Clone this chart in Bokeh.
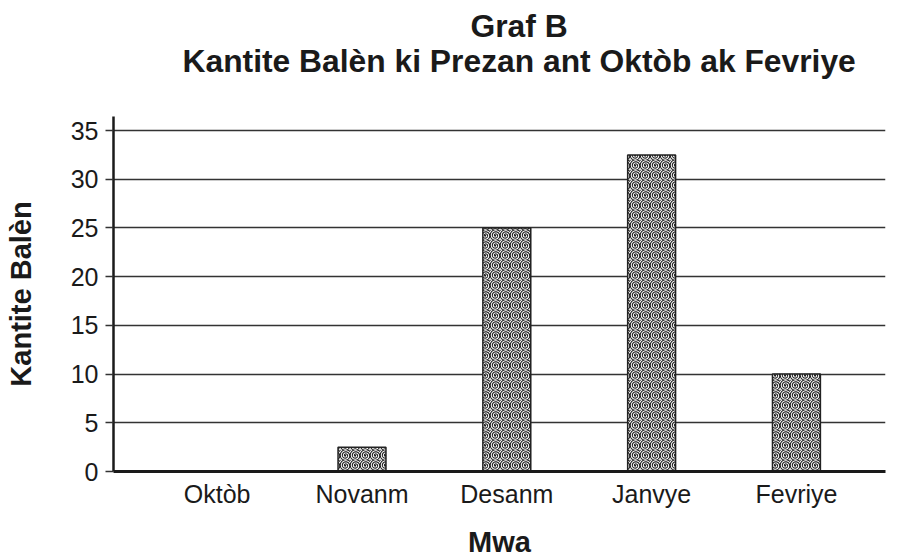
from bokeh.plotting import figure
from bokeh.models import ColumnDataSource, FixedTicker, Range1d, Title
from bokeh.embed import file_html
from bokeh.resources import INLINE

months = ["Oktòb", "Novanm", "Desanm", "Janvye", "Fevriye"]
whales = [0, 2.5, 25, 32.5, 10]
y_ticks = [0, 5, 10, 15, 20, 25, 30, 35]
title_line1 = "Graf B"
title_line2 = "Kantite Balèn ki Prezan ant Oktòb ak Fevriye"
x_label = "Mwa"
y_label = "Kantite Balèn"

pos = list(range(len(months)))
src = ColumnDataSource(dict(x=pos, top=whales))

FONT = "Liberation Sans"
INK = "#1a1a1a"

p = figure(width=897, height=560, output_backend="svg", toolbar_location=None,
           title_location=None,
           x_range=Range1d(-0.716, 4.615), y_range=Range1d(0, 36.44),
           min_border_left=113, min_border_right=12, min_border_top=116,
           min_border_bottom=89, outline_line_color=None,
           background_fill_color="white", border_fill_color="white")

p.vbar(x="x", top="top", width=0.331, source=src, fill_color="white",
       line_color="#222222", line_width=1.5, hatch_pattern="spiral",
       hatch_color="#1a1a1a", hatch_scale=10, hatch_weight=1.1)

p.xgrid.visible = False
p.ygrid.ticker = FixedTicker(ticks=y_ticks[1:])
p.ygrid.grid_line_color = "#333333"
p.ygrid.grid_line_width = 1.5
p.ygrid.level = "underlay"

p.yaxis.ticker = FixedTicker(ticks=y_ticks)
p.xaxis.ticker = FixedTicker(ticks=pos)
p.xaxis.major_label_overrides = {i: m for i, m in enumerate(months)}

for ax in (p.xaxis[0], p.yaxis[0]):
    ax.axis_line_color = INK
    ax.axis_line_width = 2.5
    ax.minor_tick_line_color = None
    ax.major_label_text_font = FONT
    ax.major_label_text_font_size = "25px"
    ax.major_label_text_color = INK
    ax.axis_label_text_font = FONT
    ax.axis_label_text_font_style = "bold"
    ax.axis_label_text_font_size = "29px"
    ax.axis_label_text_color = INK

p.xaxis.axis_line_width = 3
p.xaxis.major_tick_line_color = None
p.xaxis.major_tick_out = 0
p.xaxis.major_tick_in = 0
p.xaxis.major_label_standoff = 8
p.xaxis.axis_label = x_label
p.xaxis.axis_label_standoff = 15

p.yaxis.major_tick_line_color = "#333333"
p.yaxis.major_tick_line_width = 1.5
p.yaxis.major_tick_out = 8
p.yaxis.major_tick_in = 0
p.yaxis.major_label_standoff = 7
p.yaxis.axis_label = y_label
p.yaxis.axis_label_standoff = 31

# spacer between frame and title, then the two title lines (first added = nearest frame)
p.add_layout(Title(text=" ", text_font_size="10px", standoff=25), "above")
p.add_layout(Title(text=title_line2, align="left", offset=69, standoff=0,
                   text_font=FONT, text_font_style="bold", text_font_size="31.8px",
                   text_color=INK), "above")
p.add_layout(Title(text=title_line1, align="left", offset=357, standoff=-6,
                   text_font=FONT, text_font_style="bold", text_font_size="31.8px",
                   text_color=INK), "above")

open("out.html", "w").write(file_html(p, INLINE))
